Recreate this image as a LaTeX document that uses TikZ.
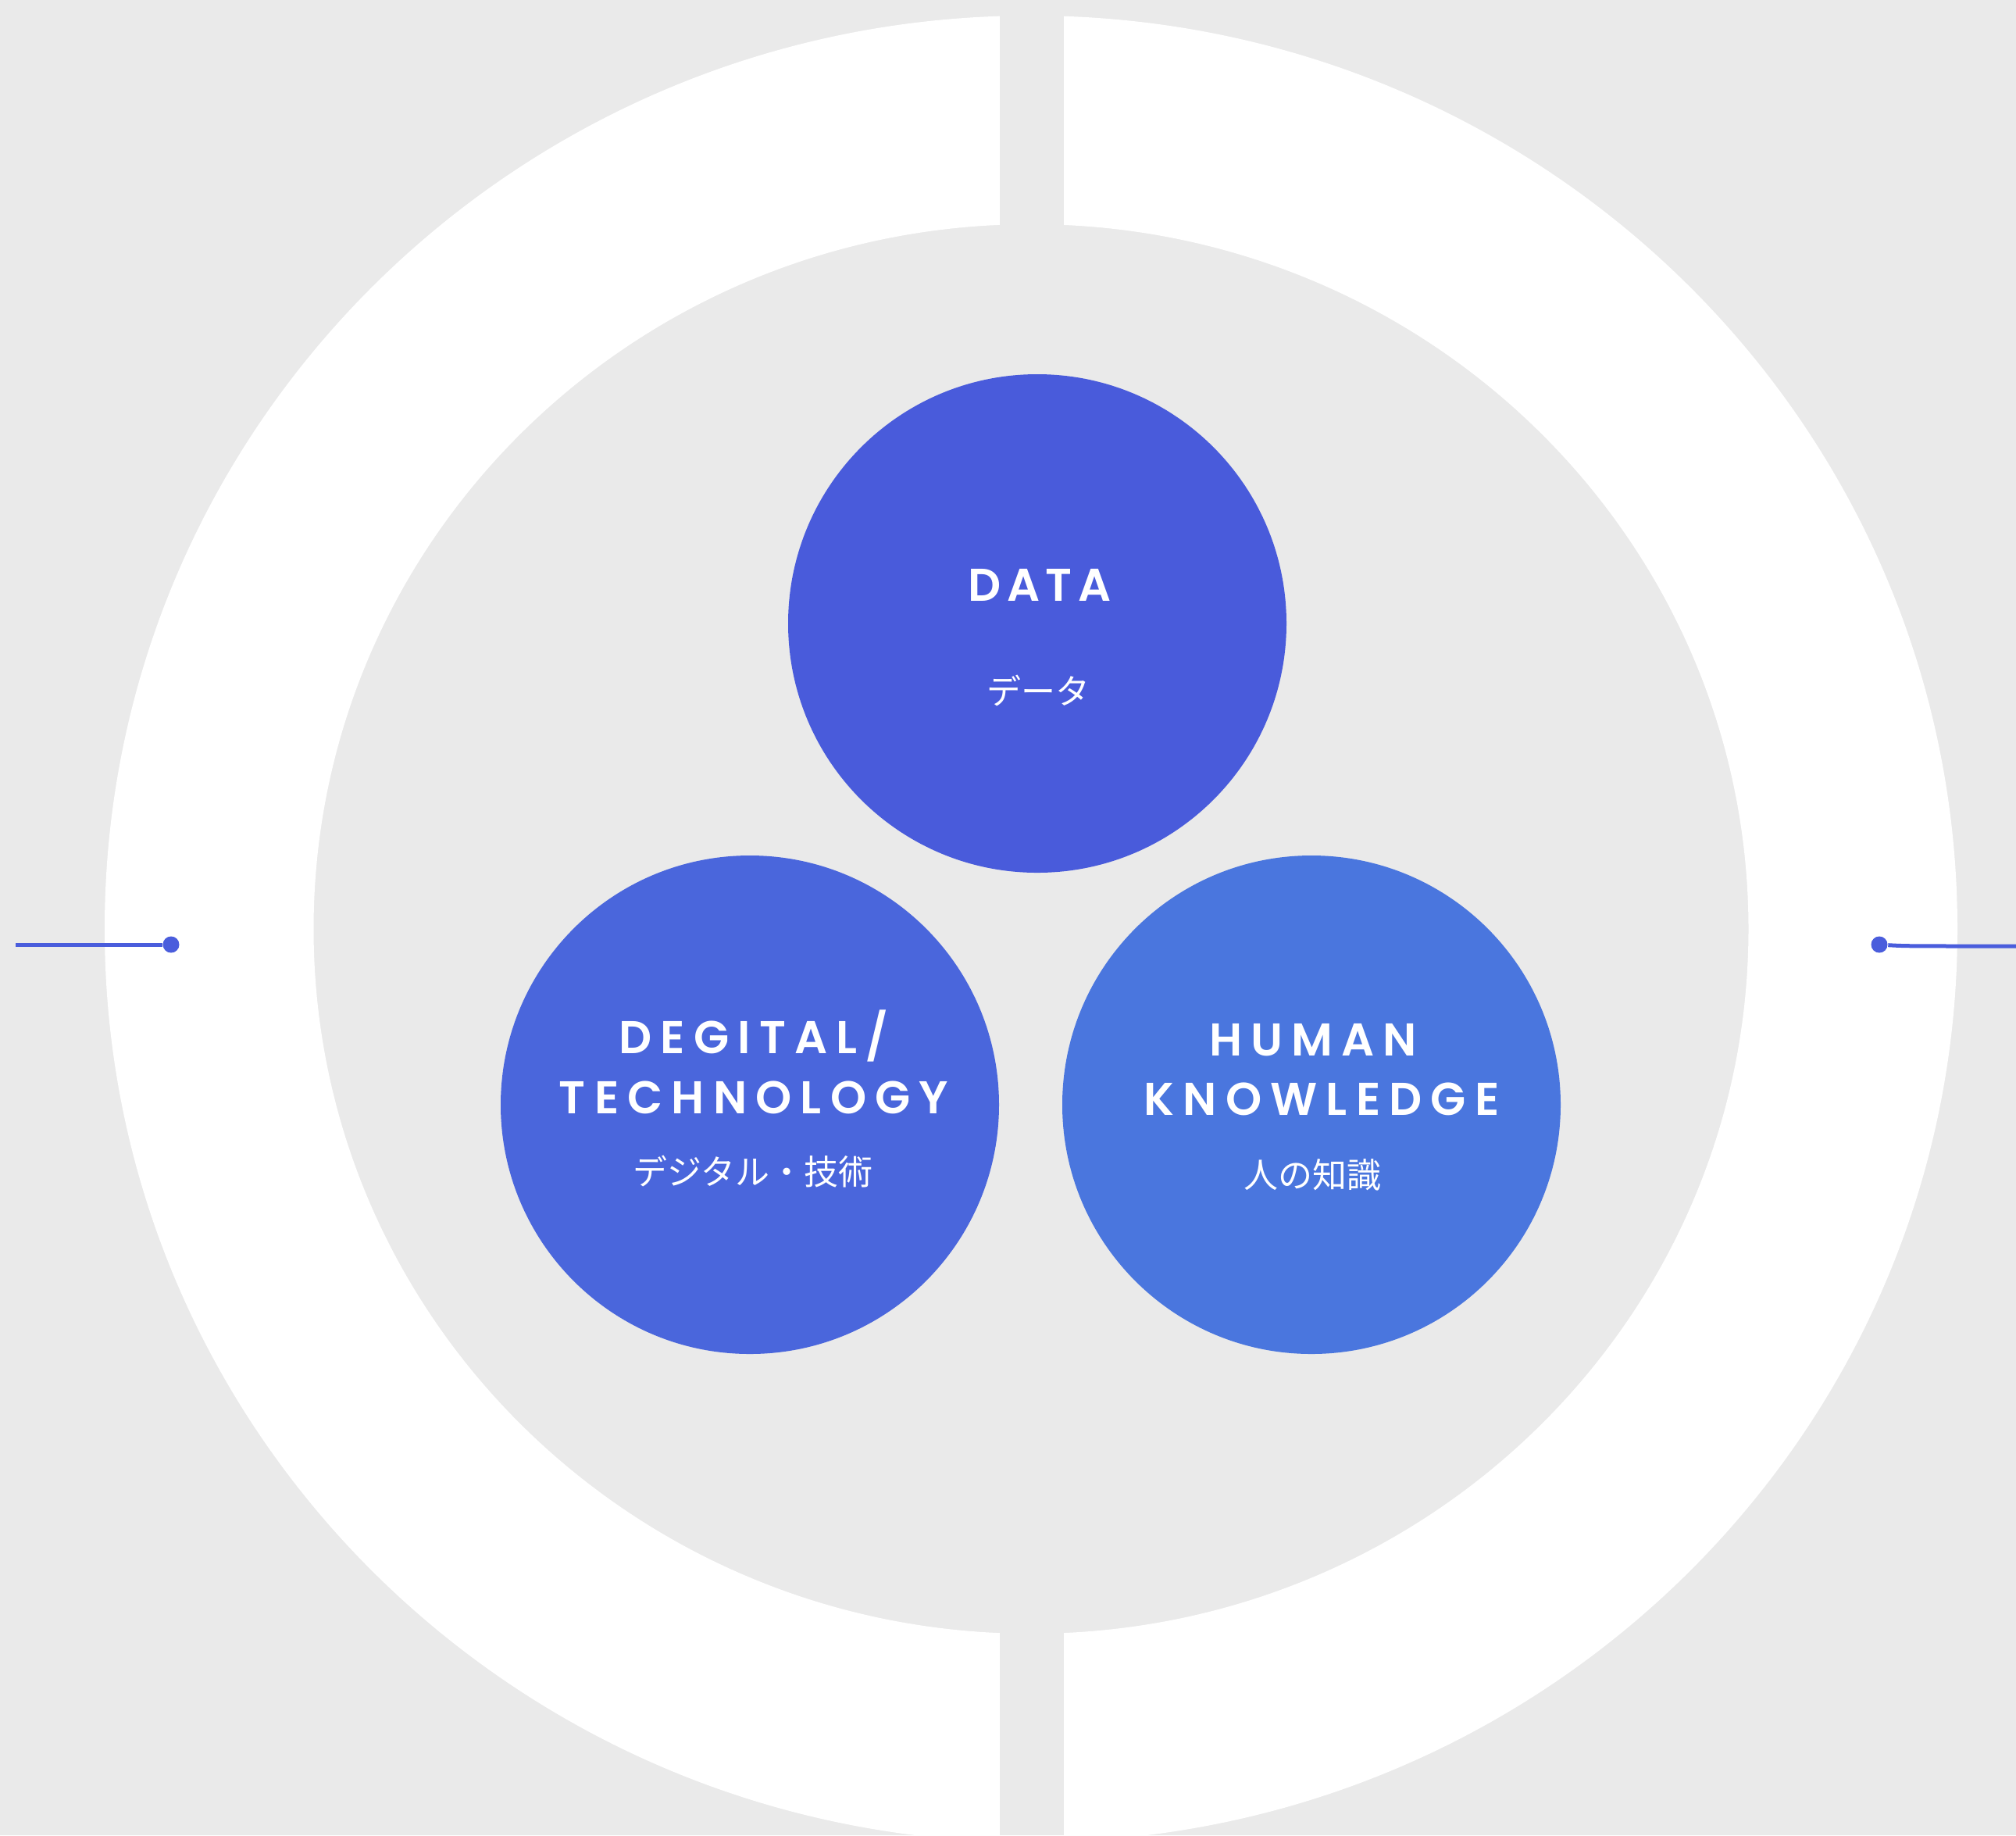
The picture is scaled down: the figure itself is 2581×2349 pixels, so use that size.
\documentclass[tikz,border=0pt]{standalone}
\usepackage{fontspec}
\usepackage{xcolor}
\usetikzlibrary{arrows}
\newfontfamily\headfont{Poppins}[BoldFont={Poppins SemiBold},LetterSpace=19]
\newfontfamily\jpfont{Noto Sans CJK JP}
\definecolor{bggray}{HTML}{EAEAEA}
\definecolor{datablue}{HTML}{495BDB}
\definecolor{techblue}{HTML}{4A66DC}
\definecolor{humanblue}{HTML}{4A76DE}
\definecolor{linkblue}{HTML}{4A5DDC}

\begin{document}
\begin{tikzpicture}[line cap=round,line join=round,x=0.25pt,y=-0.25pt,
  bubble/.style={circle,minimum size=159.5pt,inner sep=0pt},
  headtext/.style={text=white,font=\headfont\bfseries\fontsize{14.7}{17}\selectfont,anchor=base},
  subtext/.style={text=white,font=\jpfont\fontsize{11}{13}\selectfont,anchor=center},
  pin/.style={circle,fill=linkblue,minimum size=5.25pt,inner sep=0pt}]
\useasboundingbox (0,0) rectangle (2581,2349);
\fill[bggray] (0,0) rectangle (2581,2349);
\fill[white,even odd rule] (1320,1189) ellipse [x radius=1186,y radius=1169] (1320,1189) ellipse [x radius=918.5,y radius=902];
\fill[bggray] (1280,0) rectangle (1362,2349);
\node[bubble,fill=datablue] (data) at (1328,798) {};
\node[bubble,fill=techblue] (tech) at (960,1414) {};
\node[bubble,fill=humanblue] (human) at (1679,1414) {};
\node[headtext] (datahead) at (1331,769) {\addfontfeature{LetterSpace=13}DATA};
\node[subtext] (datasub) at (1329,884) {データ};
\node[headtext] (techhead) at (965,1348) {DEGITAL/};
\node[headtext] (techhead2) at (965,1425) {TECHNOLOGY};
\node[subtext] (techsub) at (964,1500) {デジタル・技術};
\node[headtext] (humanhead) at (1681,1351) {HUMAN};
\node[headtext] (humanhead2) at (1692,1427) {KNOWLEDGE};
\node[subtext] (humansub) at (1680,1504) {人の知識};
\node[pin] (lpin) at (219,1209) {};
\coordinate (lend) at (20,1209);
\draw[linkblue,line width=1.25pt,line cap=butt] (lend) -- (lpin);
\node[pin] (rpin) at (2406,1209) {};
\coordinate (rend) at (2581,1211);
\draw[linkblue,line width=1.25pt,line cap=butt] (rpin) .. controls (2440,1211) .. (rend);
\end{tikzpicture}
\end{document}
